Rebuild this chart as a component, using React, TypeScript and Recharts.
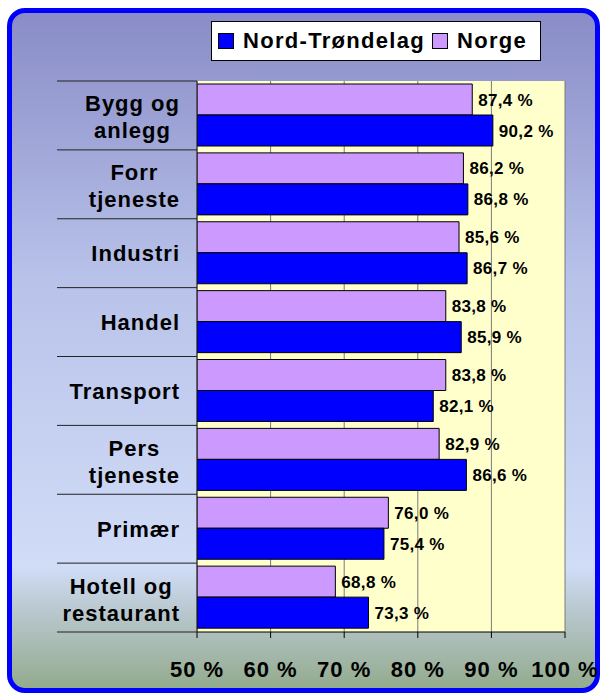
import React from 'react'
import { BarChart, Bar, XAxis, YAxis, CartesianGrid, LabelList } from 'recharts'

const CATEGORIES = [
  'Bygg og\nanlegg',
  'Forr\ntjeneste',
  'Industri',
  'Handel',
  'Transport',
  'Pers\ntjeneste',
  'Primær',
  'Hotell og\nrestaurant',
]
const NORGE = [87.4, 86.2, 85.6, 83.8, 83.8, 82.9, 76.0, 68.8]
const NORD_TRONDELAG = [90.2, 86.8, 86.7, 85.9, 82.1, 86.6, 75.4, 73.3]
const X_TICKS = [50, 60, 70, 80, 90, 100]

const W = 603
const H = 695
const FONT = '"Liberation Sans", Arial, sans-serif'
const M = { top: 81, right: 38, bottom: 23, left: 57 }
const X_AXIS_H = 40
const PLOT_H = H - M.top - M.bottom - X_AXIS_H

const data = CATEGORIES.map((name, i) => ({
  name,
  norge: NORGE[i],
  nt: NORD_TRONDELAG[i],
}))

const fmt = (v: number) => `${v.toFixed(1).replace('.', ',')} %`

let ctx: CanvasRenderingContext2D | null = null
function measure(s: string) {
  if (!ctx) ctx = document.createElement('canvas').getContext('2d')
  if (!ctx) return s.length * 12
  ctx.font = `bold 22px ${FONT}`
  return ctx.measureText(s).width + s.length * 1
}

function CategoryTick(props: any) {
  const { x, y, payload, index } = props
  const band = PLOT_H / CATEGORIES.length
  const lines: string[] = String(payload.value).split('\n')
  const blockW = Math.max(...lines.map(measure))
  const cx = x - blockW / 2
  const ys = lines.length === 1 ? [y + 8] : [y - 4, y + 23]
  return (
    <g>
      <line x1={x - 123} x2={x + 17} y1={y - band / 2} y2={y - band / 2} stroke="#222" />
      {index === CATEGORIES.length - 1 && (
        <line x1={x - 123} x2={x + 17} y1={y + band / 2} y2={y + band / 2} stroke="#222" />
      )}
      {lines.map((l, i) => (
        <text
          key={i}
          x={cx}
          y={ys[i]}
          textAnchor="middle"
          fontFamily={FONT}
          fontSize={22}
          fontWeight="bold"
          letterSpacing={1}
          fill="#000"
        >
          {l}
        </text>
      ))}
    </g>
  )
}

function LegendBox() {
  const item = (color: string, label: string) => (
    <span style={{ display: 'flex', alignItems: 'center', marginRight: 7, flexShrink: 0 }}>
      <span
        style={{
          width: 14,
          height: 14,
          background: color,
          border: '1px solid #000',
          marginRight: 9,
          flexShrink: 0,
        }}
      />
      <span style={{ letterSpacing: 1.3, whiteSpace: 'nowrap' }}>{label}</span>
    </span>
  )
  return (
    <div
      style={{
        position: 'absolute',
        left: 211,
        top: 21,
        width: 330,
        height: 40,
        boxSizing: 'border-box',
        border: '1px solid #000',
        background: '#fff',
        display: 'flex',
        alignItems: 'center',
        paddingLeft: 6,
        fontFamily: FONT,
        fontSize: 22,
        fontWeight: 'bold',
        color: '#000',
        whiteSpace: 'nowrap',
        overflow: 'hidden',
      }}
    >
      {item('#0000FF', 'Nord-Trøndelag')}
      {item('#CC99FF', 'Norge')}
    </div>
  )
}

export default function App() {
  return (
    <div style={{ position: 'absolute', left: 0, top: 0, width: W, height: H }}>
      <div
        style={{
          position: 'absolute',
          left: 7,
          top: 8,
          width: 593,
          height: 685,
          boxSizing: 'border-box',
          border: '5px solid #0000FF',
          borderRadius: 18,
          background:
            'linear-gradient(to bottom, #898CC7 0%, #B9C3EA 40%, #D1DCF7 82%, #B4C4C6 90%, #93AB8E 100%)',
        }}
      />
      <div style={{ position: 'absolute', left: 0, top: 0 }}>
        <BarChart
          width={W}
          height={H}
          data={data}
          layout="vertical"
          margin={M}
          barCategoryGap={3}
          barGap={0}
        >
          <CartesianGrid horizontal={false} stroke="#7a7a7a" fill="#FFFFCC" fillOpacity={1} />
          <XAxis
            type="number"
            domain={[50, 100]}
            ticks={X_TICKS}
            allowDataOverflow
            height={X_AXIS_H}
            tickFormatter={(v: number) => `${v} %`}
            axisLine={{ stroke: '#000' }}
            tickLine={{ stroke: '#000' }}
            tickSize={6}
            tickMargin={23}
            tick={{ fontFamily: FONT, fontSize: 22, fontWeight: 'bold', fill: '#000', letterSpacing: 1 }}
            interval={0}
          />
          <YAxis
            type="category"
            dataKey="name"
            width={140}
            axisLine={{ stroke: '#222' }}
            tickLine={false}
            tickSize={0}
            tickMargin={17}
            tick={<CategoryTick />}
            interval={0}
          />
          <Bar dataKey="norge" name="Norge" fill="#CC99FF" stroke="#000" strokeWidth={1} isAnimationActive={false}>
            <LabelList
              dataKey="norge"
              position="right"
              offset={6}
              formatter={(v: any) => fmt(Number(v))}
              style={{ fontFamily: FONT, fontSize: 17, fontWeight: 'bold', fill: '#000', letterSpacing: 0.3 }}
            />
          </Bar>
          <Bar dataKey="nt" name="Nord-Trøndelag" fill="#0000FF" stroke="#000" strokeWidth={1} isAnimationActive={false}>
            <LabelList
              dataKey="nt"
              position="right"
              offset={6}
              formatter={(v: any) => fmt(Number(v))}
              style={{ fontFamily: FONT, fontSize: 17, fontWeight: 'bold', fill: '#000', letterSpacing: 0.3 }}
            />
          </Bar>
        </BarChart>
      </div>
      <LegendBox />
    </div>
  )
}
